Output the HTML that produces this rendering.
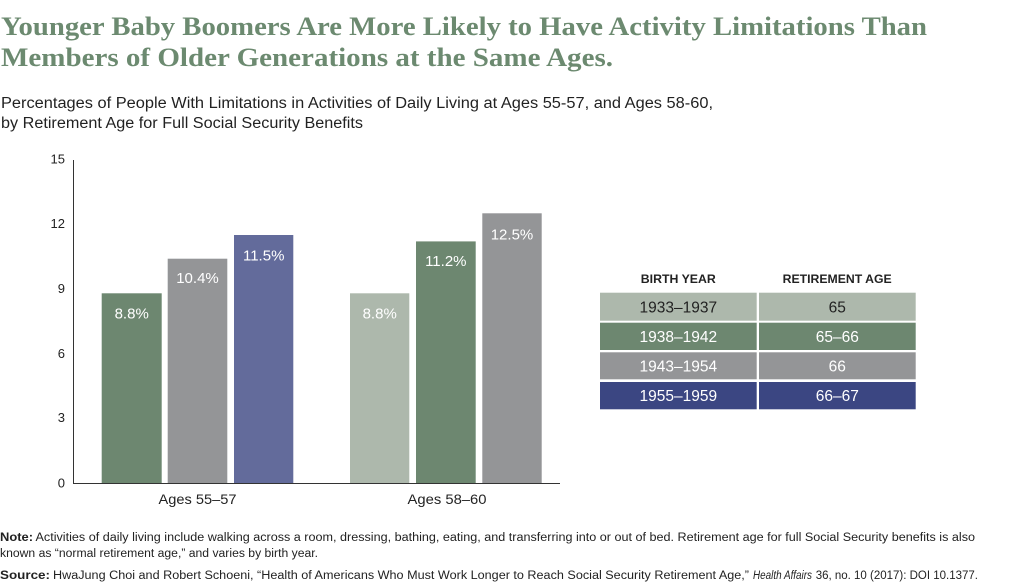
<!DOCTYPE html>
<html>
<head>
<meta charset="utf-8">
<style>
  html,body{margin:0;padding:0;background:#fff;}
  svg{display:block;}
  .sans{font-family:"Liberation Sans",sans-serif;}
  .serif{font-family:"Liberation Serif",serif;}
</style>
</head>
<body>
<svg width="1012" height="587" viewBox="0 0 1012 587" xmlns="http://www.w3.org/2000/svg">
  <rect width="1012" height="587" fill="#fff"/>

  <!-- Title -->
  <text class="serif" x="1" y="35" font-size="26" font-weight="bold" fill="#6c8a70" textLength="926" lengthAdjust="spacingAndGlyphs">Younger Baby Boomers Are More Likely to Have Activity Limitations Than</text>
  <text class="serif" x="1" y="66" font-size="26" font-weight="bold" fill="#6c8a70" textLength="612" lengthAdjust="spacingAndGlyphs">Members of Older Generations at the Same Ages.</text>

  <!-- Subtitle -->
  <text class="sans" x="1" y="108" font-size="15.5" fill="#222" textLength="712" lengthAdjust="spacingAndGlyphs">Percentages of People With Limitations in Activities of Daily Living at Ages 55-57, and Ages 58-60,</text>
  <text class="sans" x="1" y="128" font-size="15.5" fill="#222" textLength="362" lengthAdjust="spacingAndGlyphs">by Retirement Age for Full Social Security Benefits</text>

  <!-- Y ticks labels -->
  <g class="sans" font-size="13" fill="#222" text-anchor="end">
    <text x="65" y="163.5">15</text>
    <text x="65" y="228">12</text>
    <text x="65" y="293">9</text>
    <text x="65" y="358">6</text>
    <text x="65" y="422">3</text>
    <text x="65" y="487.5">0</text>
  </g>

  <!-- Bars -->
  <rect x="101.7" y="293.3" width="60" height="190" fill="#6d8770"/>
  <rect x="167.7" y="258.7" width="59.6" height="224.6" fill="#949597"/>
  <rect x="234" y="235" width="59.3" height="248.3" fill="#636b9b"/>
  <rect x="350" y="293.3" width="59.3" height="190" fill="#adb8ac"/>
  <rect x="416" y="241.4" width="59.7" height="241.9" fill="#6d8770"/>
  <rect x="482.3" y="213.3" width="59.4" height="270" fill="#949597"/>

  <!-- Bar labels -->
  <g class="sans" font-size="15" fill="#fff" text-anchor="middle">
    <text x="131.7" y="318.5">8.8%</text>
    <text x="197.5" y="283">10.4%</text>
    <text x="263.7" y="260.5">11.5%</text>
    <text x="379.7" y="318.5">8.8%</text>
    <text x="445.8" y="266">11.2%</text>
    <text x="512" y="239.5">12.5%</text>
  </g>

  <!-- Axes -->
  <line x1="73.5" y1="160" x2="73.5" y2="484" stroke="#333" stroke-width="1"/>
  <line x1="73" y1="483.5" x2="560" y2="483.5" stroke="#333" stroke-width="1"/>

  <!-- Category labels -->
  <text class="sans" x="197.5" y="504" font-size="14" fill="#222" text-anchor="middle" textLength="78" lengthAdjust="spacingAndGlyphs">Ages 55–57</text>
  <text class="sans" x="447" y="504" font-size="14" fill="#222" text-anchor="middle" textLength="79" lengthAdjust="spacingAndGlyphs">Ages 58–60</text>

  <!-- Table -->
  <text class="sans" x="678.3" y="283" font-size="12" font-weight="bold" fill="#222" text-anchor="middle" textLength="75" lengthAdjust="spacingAndGlyphs">BIRTH YEAR</text>
  <text class="sans" x="837.2" y="283" font-size="12" font-weight="bold" fill="#222" text-anchor="middle" textLength="109" lengthAdjust="spacingAndGlyphs">RETIREMENT AGE</text>

  <rect x="600" y="292.7" width="156.7" height="28" fill="#adb8ac"/>
  <rect x="759" y="292.7" width="156.7" height="28" fill="#adb8ac"/>
  <rect x="600" y="322.7" width="156.7" height="27.3" fill="#6d8770"/>
  <rect x="759" y="322.7" width="156.7" height="27.3" fill="#6d8770"/>
  <rect x="600" y="352.3" width="156.7" height="27" fill="#949597"/>
  <rect x="759" y="352.3" width="156.7" height="27" fill="#949597"/>
  <rect x="600" y="382" width="156.7" height="27.3" fill="#3b4682"/>
  <rect x="759" y="382" width="156.7" height="27.3" fill="#3b4682"/>

  <g class="sans" font-size="15.5" text-anchor="middle">
    <text x="678.3" y="312.3" fill="#222">1933–1937</text>
    <text x="837.3" y="312.3" fill="#222">65</text>
    <text x="678.3" y="341.8" fill="#fff">1938–1942</text>
    <text x="837.3" y="341.8" fill="#fff">65–66</text>
    <text x="678.3" y="371.3" fill="#fff">1943–1954</text>
    <text x="837.3" y="371.3" fill="#fff">66</text>
    <text x="678.3" y="401.2" fill="#fff">1955–1959</text>
    <text x="837.3" y="401.2" fill="#fff">66–67</text>
  </g>

  <!-- Footer -->
  <g class="sans" font-size="11.5" fill="#222">
    <text x="0" y="541" font-weight="bold" textLength="33" lengthAdjust="spacingAndGlyphs">Note:</text>
    <text x="35.5" y="541" textLength="939.5" lengthAdjust="spacingAndGlyphs">Activities of daily living include walking across a room, dressing, bathing, eating, and transferring into or out of bed. Retirement age for full Social Security benefits is also</text>
    <text x="0" y="557" textLength="318" lengthAdjust="spacingAndGlyphs">known as “normal retirement age,” and varies by birth year.</text>
    <text x="0" y="579" font-weight="bold" textLength="50" lengthAdjust="spacingAndGlyphs">Source:</text>
    <text x="53" y="579" textLength="696" lengthAdjust="spacingAndGlyphs">HwaJung Choi and Robert Schoeni, “Health of Americans Who Must Work Longer to Reach Social Security Retirement Age,”</text>
    <text x="753" y="579" font-style="italic" textLength="59" lengthAdjust="spacingAndGlyphs">Health Affairs</text>
    <text x="815.7" y="579" textLength="162.3" lengthAdjust="spacingAndGlyphs">36, no. 10 (2017): DOI 10.1377.</text>
  </g>
</svg>
</body>
</html>
